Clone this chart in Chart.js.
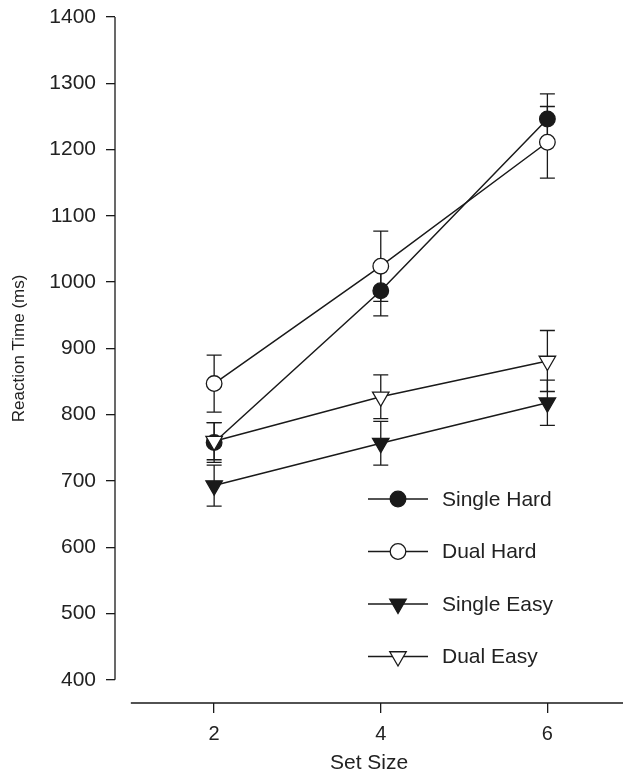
<!DOCTYPE html>
<html>
<head>
<meta charset="utf-8">
<script src="https://cdn.jsdelivr.net/npm/chart.js@4.4.1/dist/chart.umd.min.js"></script>
<style>
  html, body { margin: 0; padding: 0; background: #fff; overflow: hidden; }
  #wrap { width: 634px; height: 772px; }
</style>
</head>
<body>
<div id="wrap"><canvas id="rtChart"></canvas></div>
<script>
// ===== Datos =====
const setSizes = [2, 4, 6];
const xTicks = [2, 4, 6];
const yTicks = [400, 500, 600, 700, 800, 900, 1000, 1100, 1200, 1300, 1400];
const seriesNames = ["Single Hard", "Dual Hard", "Single Easy", "Dual Easy"];
const yTitle = "Reaction Time (ms)";

const singleHard = [758, 987, 1246];
const singleHardErr = [30, 38, 38];
const dualHard = [847, 1024, 1211];
const dualHardErr = [43, 53, 54];
const singleEasy = [693, 757, 818];
const singleEasyErr = [31, 33, 34];
const dualEasy = [760, 827, 881];
const dualEasyErr = [28, 33, 46];

const ink = "#1a1a1a";
const fontFamily = "'Liberation Sans', Arial, Helvetica, sans-serif";

function puntos(valores) {
  return setSizes.map((x, i) => ({ x: x, y: valores[i] }));
}

function serie(label, valores, errores, estilo, relleno, radio, rotacion, orden) {
  return {
    label: label,
    data: puntos(valores),
    errores: errores,
    borderColor: ink,
    backgroundColor: relleno,
    borderWidth: 1.5,
    pointStyle: estilo,
    pointRadius: radio,
    pointRotation: rotacion,
    pointBackgroundColor: relleno,
    pointBorderColor: ink,
    pointBorderWidth: 1.3,
    order: orden,
  };
}

// ===== Ejes, barras de error y leyenda =====
const extras = {
  id: "extras",
  beforeDatasetsDraw(chart) {
    const { ctx, scales } = chart;
    const x = scales.x, y = scales.y;
    ctx.save();
    ctx.strokeStyle = ink;
    ctx.lineWidth = 1.3;

    // eje Y (400 a 1400) y eje X (desde 1)
    ctx.beginPath();
    ctx.moveTo(chart.chartArea.left, y.getPixelForValue(yTicks[0]));
    ctx.lineTo(chart.chartArea.left, y.getPixelForValue(yTicks[yTicks.length - 1]));
    ctx.moveTo(x.getPixelForValue(1), chart.chartArea.bottom);
    ctx.lineTo(chart.chartArea.right, chart.chartArea.bottom);
    ctx.stroke();

    // título del eje Y, centrado sobre la línea del eje
    const midY = (y.getPixelForValue(yTicks[0]) + y.getPixelForValue(yTicks[yTicks.length - 1])) / 2;
    ctx.save();
    ctx.translate(19, midY);
    ctx.rotate(-Math.PI / 2);
    ctx.font = "17px " + fontFamily;
    ctx.fillStyle = "#222";
    ctx.textAlign = "center";
    ctx.textBaseline = "middle";
    ctx.fillText(yTitle, 0, 0);
    ctx.restore();

    // barras de error
    chart.data.datasets.forEach((ds) => {
      ds.data.forEach((p, i) => {
        const px = x.getPixelForValue(p.x);
        const top = y.getPixelForValue(p.y + ds.errores[i]);
        const bot = y.getPixelForValue(p.y - ds.errores[i]);
        ctx.beginPath();
        ctx.moveTo(px, top);
        ctx.lineTo(px, bot);
        ctx.moveTo(px - 7.5, top);
        ctx.lineTo(px + 7.5, top);
        ctx.moveTo(px - 7.5, bot);
        ctx.lineTo(px + 7.5, bot);
        ctx.stroke();
      });
    });
    ctx.restore();
  },
  afterDraw(chart) {
    const { ctx } = chart;
    const lineX = 368, lineLen = 60, topY = 499, step = 52.5;
    ctx.save();
    ctx.font = "21px " + fontFamily;
    ctx.textBaseline = "middle";
    chart.data.datasets.forEach((ds, i) => {
      const ly = topY + i * step;
      ctx.strokeStyle = ink;
      ctx.lineWidth = 1.5;
      ctx.beginPath();
      ctx.moveTo(lineX, ly);
      ctx.lineTo(lineX + lineLen, ly);
      ctx.stroke();

      ctx.fillStyle = ds.pointBackgroundColor;
      ctx.lineWidth = 1.3;
      Chart.helpers.drawPoint(ctx, {
        pointStyle: ds.pointStyle,
        radius: ds.pointRadius,
        rotation: ds.pointRotation,
        borderWidth: 1.3,
      }, lineX + lineLen / 2, ly);

      ctx.fillStyle = "#222";
      ctx.fillText(ds.label, 442, ly + 1);
    });
    ctx.restore();
  },
};

const ctx = document.getElementById("rtChart");

new Chart(ctx, {
  type: "line",
  data: {
    datasets: [
      serie(seriesNames[0], singleHard, singleHardErr, "circle", ink, 7.8, 0, 4),
      serie(seriesNames[1], dualHard, dualHardErr, "circle", "#ffffff", 7.8, 0, 2),
      serie(seriesNames[2], singleEasy, singleEasyErr, "triangle", ink, 9.5, 180, 3),
      serie(seriesNames[3], dualEasy, dualEasyErr, "triangle", "#ffffff", 9.5, 180, 1),
    ],
  },
  options: {
    responsive: true,
    maintainAspectRatio: false,
    animation: false,
    layout: { padding: { top: 17, left: 0, right: 0, bottom: 0 } },
    plugins: {
      legend: { display: false },
      tooltip: { enabled: false },
    },
    scales: {
      x: {
        type: "linear",
        min: 0.81,
        max: 6.91,
        afterBuildTicks: (scale) => { scale.ticks = xTicks.map((v) => ({ value: v })); },
        afterFit: (scale) => { scale.height = 69; },
        border: { display: false },
        grid: { drawOnChartArea: false, drawTicks: true, tickLength: 10, color: ink, lineWidth: 1.3 },
        ticks: { color: "#222", padding: 9, font: { size: 20, family: fontFamily } },
        title: { display: true, text: "Set Size", color: "#222", padding: { top: 0, bottom: -4 }, font: { size: 21, family: fontFamily } },
      },
      y: {
        min: 365,
        max: 1400,
        afterBuildTicks: (scale) => { scale.ticks = yTicks.map((v) => ({ value: v })); },
        afterFit: (scale) => {
          scale.width = 115;
          scale.paddingTop = 0;
          scale.paddingBottom = 0;
        },
        border: { display: false },
        grid: { drawOnChartArea: false, drawTicks: true, tickLength: 9, color: ink, lineWidth: 1.3 },
        ticks: {
          color: "#222",
          padding: 10,
          font: { size: 21, family: fontFamily },
          callback: (v) => String(v),
        },
      },
    },
  },
  plugins: [extras],
});
</script>
</body>
</html>
